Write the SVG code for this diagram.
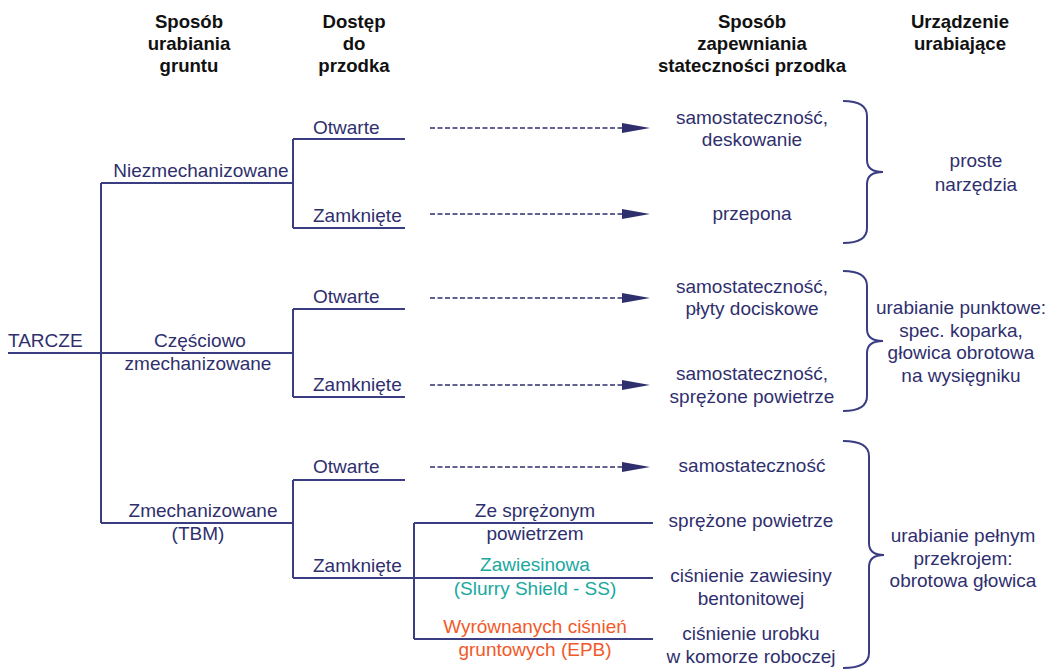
<svg xmlns="http://www.w3.org/2000/svg" width="1064" height="672" viewBox="0 0 1064 672">
<defs>
<style>
text{font-family:"Liberation Sans",Arial,sans-serif;font-size:19px;fill:#2f2f6e;text-anchor:middle}
.h{font-weight:bold;fill:#111;font-size:18.6px}
.l{text-anchor:start}
.teal{fill:#1aa8a0}
.org{fill:#f2592a}
.tree{stroke:#3a3d82;stroke-width:2;fill:none}
.dash{stroke:#2f2f6e;stroke-width:1.4;stroke-dasharray:5 2.5;fill:none}
.brace{stroke:#3a3d82;stroke-width:2;fill:none}
.ah{fill:#2f2f6e}
</style>
</defs>
<rect width="1064" height="672" fill="#fff"/>
<g id="headers">
<text class="h" x="189" y="28">Sposób</text>
<text class="h" x="189" y="50">urabiania</text>
<text class="h" x="189" y="72">gruntu</text>
<text class="h" x="354" y="28">Dostęp</text>
<text class="h" x="354" y="50">do</text>
<text class="h" x="354" y="72">przodka</text>
<text class="h" x="752" y="28">Sposób</text>
<text class="h" x="752" y="50">zapewniania</text>
<text class="h" x="752" y="72">stateczności przodka</text>
<text class="h" x="960" y="28">Urządzenie</text>
<text class="h" x="960" y="50">urabiające</text>
</g>
<g id="connectors">
<path class="tree" d="M8,353 H293 M101,183 V523 M101,183 H293 M101,523 H293"/>
<path class="tree" d="M293,139 V228 M293,139 H405 M293,228 H405"/>
<path class="tree" d="M293,309 V397 M293,309 H405 M293,397 H405"/>
<path class="tree" d="M293,480 V578 M293,480 H405 M293,578 H653"/>
<path class="tree" d="M414,523 V639 M414,523 H653 M414,639 H653"/>
<path class="dash" d="M430,128 H624"/>
<path class="dash" d="M430,214 H624"/>
<path class="dash" d="M430,298 H624"/>
<path class="dash" d="M430,385 H624"/>
<path class="dash" d="M430,467 H624"/>
<path class="ah" d="M622,123 L650,128 L622,133 Z"/>
<path class="ah" d="M622,209 L650,214 L622,219 Z"/>
<path class="ah" d="M622,293 L650,298 L622,303 Z"/>
<path class="ah" d="M622,380 L650,385 L622,390 Z"/>
<path class="ah" d="M622,462 L650,467 L622,472 Z"/>
</g>
<g id="braces">
<path class="brace" d="M843,101 Q867,101 867,116 V160 Q867,172 883,172 Q867,172 867,184 V228 Q867,243 843,243"/>
<path class="brace" d="M843,271 Q867,271 867,286 V329 Q867,341 883,341 Q867,341 867,353 V396 Q867,411 843,411"/>
<path class="brace" d="M843,441 Q869,441 869,456 V543 Q869,555 884,555 Q869,555 869,567 V653 Q869,668 843,668"/>
</g>
<g id="n-tarcze"><text class="l" x="8" y="347">TARCZE</text></g>
<g id="n-niezmech"><text x="201" y="177">Niezmechanizowane</text></g>
<g id="n-czesciowo"><text x="200" y="347">Częściowo</text><text x="198" y="370">zmechanizowane</text></g>
<g id="n-zmech"><text x="203" y="517">Zmechanizowane</text><text x="198" y="540">(TBM)</text></g>
<g id="n-otw1"><text class="l" x="313" y="134">Otwarte</text></g>
<g id="n-zam1"><text class="l" x="313" y="222">Zamknięte</text></g>
<g id="n-otw2"><text class="l" x="313" y="303">Otwarte</text></g>
<g id="n-zam2"><text class="l" x="313" y="391">Zamknięte</text></g>
<g id="n-otw3"><text class="l" x="313" y="473">Otwarte</text></g>
<g id="n-zam3"><text class="l" x="313" y="572">Zamknięte</text></g>
<g id="n-ze"><text x="535" y="517">Ze sprężonym</text><text x="535" y="540">powietrzem</text></g>
<g id="n-ss"><text class="teal" x="535" y="571">Zawiesinowa</text><text class="teal" x="535" y="595">(Slurry Shield - SS)</text></g>
<g id="n-epb"><text class="org" x="535" y="633">Wyrównanych ciśnień</text><text class="org" x="535" y="656">gruntowych (EPB)</text></g>
<g id="s1"><text x="752" y="124">samostateczność,</text><text x="752" y="146">deskowanie</text></g>
<g id="s2"><text x="752" y="220">przepona</text></g>
<g id="s3"><text x="752" y="293">samostateczność,</text><text x="752" y="315">płyty dociskowe</text></g>
<g id="s4"><text x="752" y="380">samostateczność,</text><text x="752" y="403">sprężone powietrze</text></g>
<g id="s5"><text x="752" y="472">samostateczność</text></g>
<g id="s6"><text x="751" y="527">sprężone powietrze</text></g>
<g id="s7"><text x="751" y="582">ciśnienie zawiesiny</text><text x="751" y="605">bentonitowej</text></g>
<g id="s8"><text x="751" y="640">ciśnienie urobku</text><text x="751" y="663">w komorze roboczej</text></g>
<g id="u1"><text x="976" y="167">proste</text><text x="976" y="191">narzędzia</text></g>
<g id="u2"><text x="961" y="314">urabianie punktowe:</text><text x="961" y="337">spec. koparka,</text><text x="961" y="359">głowica obrotowa</text><text x="961" y="382">na wysięgniku</text></g>
<g id="u3"><text x="963" y="542">urabianie pełnym</text><text x="963" y="565">przekrojem:</text><text x="963" y="587">obrotowa głowica</text></g>
</svg>
